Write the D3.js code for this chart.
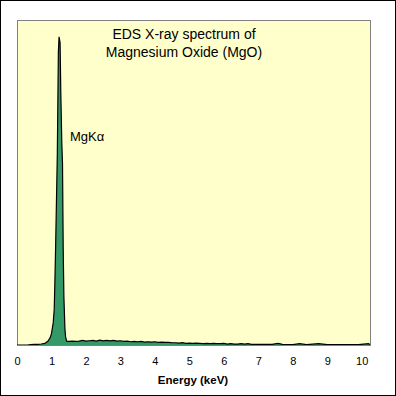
<!DOCTYPE html>
<html>
<head>
<meta charset="utf-8">
<script src="https://cdn.jsdelivr.net/npm/d3@7"></script>
<style>
  body { margin: 0; background: #fff; }
  text { font-family: "Liberation Sans", Arial, sans-serif; }
</style>
</head>
<body>
<div id="chart"></div>
<script>
// spectrum (counts scaled so the axis top is 1000)
const energyKeV = [
  0.0, 0.1, 0.2, 0.3, 0.4, 0.5, 0.6, 0.7, 0.81, 0.9, 0.96, 1.0, 1.05, 1.08, 1.1, 1.12,
  1.17, 1.2, 1.22, 1.25, 1.27, 1.3, 1.32, 1.34, 1.36, 1.39, 1.41, 1.44,
  1.5, 1.6, 1.7, 1.8, 1.9, 2.0, 2.1, 2.2, 2.3, 2.4, 2.5, 2.6, 2.7, 2.8, 2.9,
  3.0, 3.1, 3.2, 3.3, 3.4, 3.5, 3.6, 3.7, 3.8, 3.9, 4.0, 4.1, 4.2, 4.3, 4.4,
  4.5, 4.6, 4.7, 4.8, 4.9, 5.0, 5.1, 5.2, 5.3, 5.4, 5.5, 5.6, 5.7, 5.8, 5.9,
  6.0, 6.1, 6.2, 6.3, 6.4, 6.5, 6.6, 6.7, 6.8, 6.9, 7.0, 7.2, 7.4, 7.57, 7.7,
  8.0, 8.2, 8.4, 8.75, 9.0, 9.3, 9.6, 9.9, 10.2, 10.24
];
const counts = [
  0, 0, 0, 0, 1, 2, 2, 3, 5, 12, 22, 35, 68, 110, 200, 300,
  590, 900, 948, 930, 780, 620, 560, 300, 150, 50, 25, 12,
  11, 12, 11, 12, 14, 12, 13, 14, 12, 15, 13, 14, 13, 14, 12,
  13, 11, 12, 10, 11, 10, 11, 9, 10, 9, 10, 8, 9, 8, 8,
  7, 7, 6, 7, 5, 6, 5, 6, 5, 4, 5, 4, 5, 4, 4,
  5, 3, 4, 3, 3, 4, 3, 4, 2, 2, 2, 2, 2, 5, 2,
  1, 4, 1, 4, 1, 1, 1, 1, 4, 1
];
const xTicks = [0, 1, 2, 3, 4, 5, 6, 7, 8, 9, 10];
const titleLines = ["EDS X-ray spectrum of", "Magnesium Oxide (MgO)"];
const peakLabel = "MgKα";
const xLabel = "Energy (keV)";

const width = 396, height = 396;
const plot = { left: 17, top: 20, right: 370, bottom: 345 };

const svg = d3.select("#chart").append("svg")
  .attr("width", width)
  .attr("height", height);

// outer frame
svg.append("rect")
  .attr("x", 0.5).attr("y", 0.5)
  .attr("width", width - 1).attr("height", height - 1)
  .attr("fill", "#fff").attr("stroke", "#000");

// plot area
svg.append("rect")
  .attr("x", plot.left + 0.5).attr("y", plot.top + 0.5)
  .attr("width", plot.right - plot.left).attr("height", plot.bottom - plot.top)
  .attr("fill", "#ffffcc").attr("stroke", "#808080");

const x = d3.scaleLinear().domain([0, 10.24]).range([plot.left, plot.right]);
const y = d3.scaleLinear().domain([0, 1000]).range([plot.bottom, plot.top]);

const data = energyKeV.map((e, i) => ({ e: e, c: counts[i] }));

svg.append("clipPath").attr("id", "clip")
  .append("rect")
  .attr("x", plot.left).attr("y", plot.top)
  .attr("width", plot.right - plot.left).attr("height", plot.bottom - plot.top);

const area = d3.area()
  .x(d => x(d.e))
  .y0(y(0))
  .y1(d => y(d.c));

const line = d3.line()
  .x(d => x(d.e))
  .y(d => y(d.c));

const g = svg.append("g").attr("clip-path", "url(#clip)");
g.append("path")
  .datum(data)
  .attr("d", area)
  .attr("fill", "#339966");
g.append("path")
  .datum(data)
  .attr("d", line)
  .attr("fill", "none")
  .attr("stroke", "#000")
  .attr("stroke-width", 1.2);

// x axis, labels only
const axis = svg.append("g")
  .attr("transform", `translate(0,${plot.bottom})`)
  .call(d3.axisBottom(x).tickValues(xTicks).tickSize(0).tickPadding(12).tickFormat(d3.format("d")));
axis.select(".domain").remove();
axis.selectAll("text")
  .attr("font-size", 11)
  .attr("font-family", "'Liberation Sans', Arial, sans-serif")
  .attr("fill", "#000");

svg.append("text")
  .attr("x", 193).attr("y", 384)
  .attr("text-anchor", "middle")
  .attr("font-size", 11.5)
  .attr("font-weight", "bold")
  .text(xLabel);

// title
svg.selectAll(".title")
  .data(titleLines)
  .join("text")
  .attr("class", "title")
  .attr("x", 184)
  .attr("y", (d, i) => 39 + i * 18)
  .attr("text-anchor", "middle")
  .attr("font-size", 14)
  .text(d => d);

svg.append("text")
  .attr("x", 70).attr("y", 141)
  .attr("font-size", 13)
  .text(peakLabel);
</script>
</body>
</html>
